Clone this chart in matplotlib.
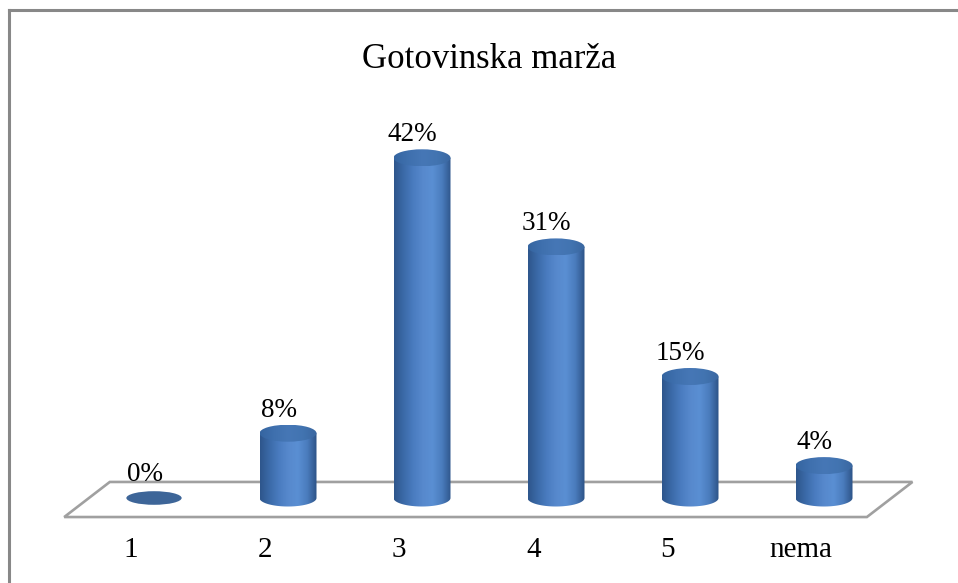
import numpy as np
import matplotlib
matplotlib.use("Agg")
from matplotlib import pyplot as plt
from matplotlib.patches import Ellipse, Polygon
from matplotlib.lines import Line2D
from matplotlib.colors import LinearSegmentedColormap

categories = ["1", "2", "3", "4", "5", "nema"]
values = [0, 8, 42, 31, 15, 4]
labels = ["0%", "8%", "42%", "31%", "15%", "4%"]
title = "Gotovinska marža"

plt.rcParams['font.family'] = ['Liberation Serif', 'DejaVu Serif']

fig = plt.figure(figsize=(9.58, 5.83), dpi=100)
ax = fig.add_axes([0, 0, 1, 1])
ax.set_axis_off()

# pixel layout: centers at 154 + 134*i, floor at 498px, 8.1px per percent
x0, dx = 154.0, 134.0
ybase, py = 498.0, 8.1
xlim = (-x0 / dx, (958 - x0) / dx)
ylim = (-(583 - ybase) / py, ybase / py)

w = 57 / dx
eh = 17 / py

body_cmap = LinearSegmentedColormap.from_list(
    "cyl", ["#2e568c", "#3b6aa8", "#4a7cc0", "#5789cd", "#5a8fd3", "#4a7cbd", "#2d5387"])
top_cmap = LinearSegmentedColormap.from_list(
    "cyltop", ["#3565a0", "#3f70ae", "#4677b6", "#4274b1", "#3a67a0"])
grad = np.linspace(0, 1, 200).reshape(1, -1)

# floor
floor = Polygon([(-0.67, -2.35), (5.32, -2.35), (5.66, 1.98), (-0.33, 1.98)],
                closed=True, fill=False, edgecolor="#a0a0a0", lw=1.9, zorder=1)
ax.add_patch(floor)

t = np.linspace(np.pi, 2 * np.pi, 60)
for i, v in enumerate(values):
    xc = i
    if v > 0:
        # body outline: left side, lower arc, right side
        pts = [(xc - w / 2, v)]
        pts += list(zip(xc + w / 2 * np.cos(t), eh / 2 * np.sin(t)))
        pts += [(xc + w / 2, v)]
        body = Polygon(pts, closed=True, facecolor="none", edgecolor="none")
        ax.add_patch(body)
        im = ax.imshow(grad, cmap=body_cmap, extent=(xc - w / 2, xc + w / 2, -eh, v),
                       aspect="auto", zorder=2, interpolation="bilinear")
        im.set_clip_path(body)
        top = Ellipse((xc, v), w, eh, facecolor="none", edgecolor="none")
        ax.add_patch(top)
        im2 = ax.imshow(grad, cmap=top_cmap, extent=(xc - w / 2, xc + w / 2, v - eh / 2, v + eh / 2),
                        aspect="auto", zorder=3, interpolation="bilinear")
        im2.set_clip_path(top)
    else:
        ax.add_patch(Ellipse((xc, v), w * 0.97, eh * 0.8, facecolor="#3d6598",
                             edgecolor="none", zorder=3))
    ax.text(xc - 0.07, v + 2.85, labels[i], ha="center", va="center", fontsize=19.5, color="black")
    ax.text(xc - 0.17, -6.4, categories[i], ha="center", va="center", fontsize=21, color="black")

ax.set_xlim(*xlim)
ax.set_ylim(*ylim)

fig.text(489 / 958, 1 - 59 / 583, title, ha="center", va="center", fontsize=25)

# chart area border (top and left visible)
fig.add_artist(Line2D([9 / 958, 1], [1 - 10 / 583, 1 - 10 / 583], color="#888888", lw=2.2))
fig.add_artist(Line2D([9 / 958, 9 / 958], [0, 1 - 10 / 583], color="#888888", lw=2.2))

fig.savefig("out.png", dpi=100)
